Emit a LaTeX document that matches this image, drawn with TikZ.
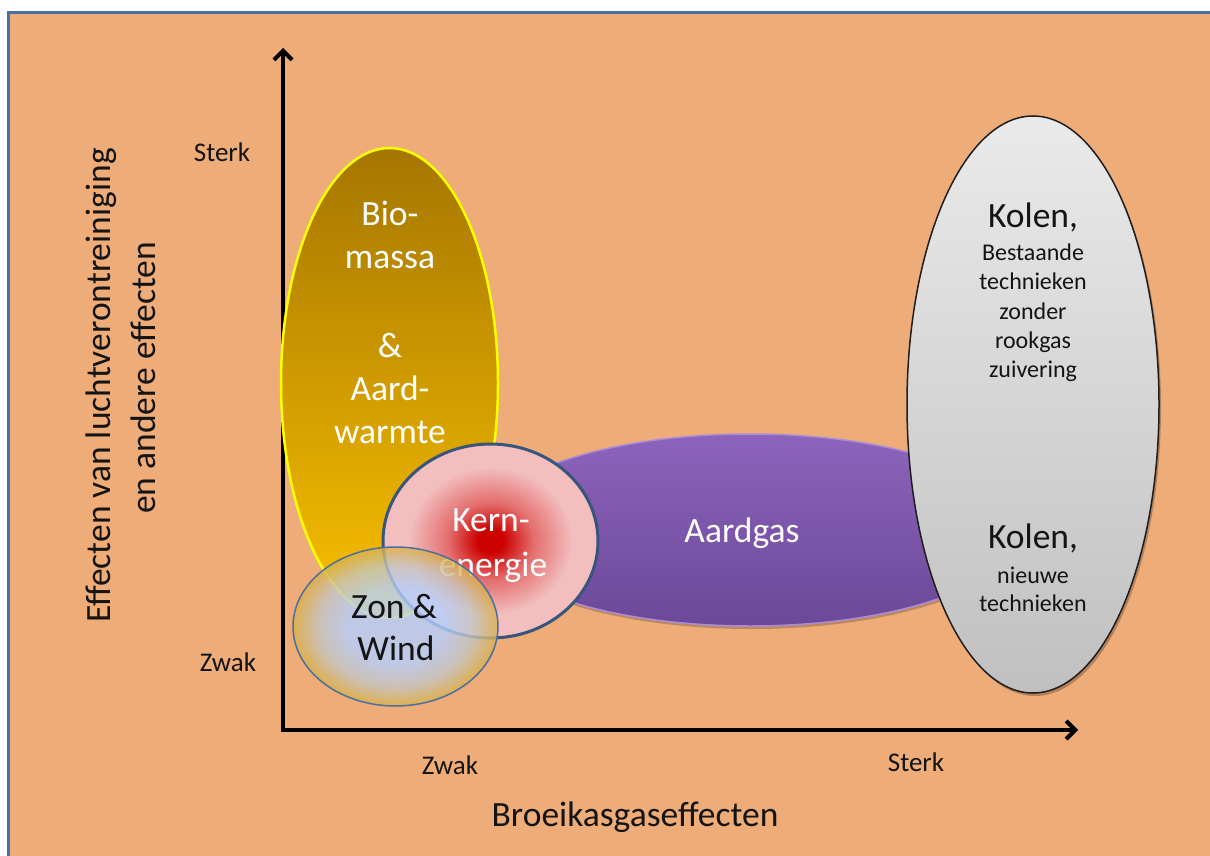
\documentclass[tikz,border=0pt]{standalone}
\usepackage{fontspec}
\setmainfont{Carlito}
\usetikzlibrary{arrows.meta,shapes.geometric}
\definecolor{bgor}{RGB}{238,172,120}
\definecolor{frameblue}{RGB}{74,111,165}
\definecolor{biotop}{RGB}{165,118,0}
\definecolor{biobot}{RGB}{250,192,0}
\definecolor{bioline}{RGB}{255,255,0}
\definecolor{gastop}{RGB}{140,100,188}
\definecolor{gasbot}{RGB}{108,72,152}
\definecolor{gasline}{RGB}{170,140,215}
\definecolor{koltop}{RGB}{234,234,234}
\definecolor{kolbot}{RGB}{192,192,192}
\definecolor{kolline}{RGB}{30,30,30}
\definecolor{kernin}{RGB}{205,0,0}
\definecolor{kernmid}{RGB}{228,110,110}
\definecolor{kernout}{RGB}{242,190,190}
\definecolor{kernline}{RGB}{55,85,125}
\definecolor{zonin}{RGB}{180,208,255}
\definecolor{zonmid}{RGB}{196,198,196}
\definecolor{zonout}{RGB}{218,176,70}
\definecolor{zonline}{RGB}{74,111,165}
\definecolor{txtdark}{RGB}{20,20,20}
\pgfdeclareradialshading{kernshade}{\pgfpoint{0bp}{0bp}}{color(0bp)=(kernin); color(3bp)=(kernin); color(10bp)=(kernmid); color(19bp)=(kernout); color(50bp)=(kernout)}
\pgfdeclareradialshading{zonshade}{\pgfpoint{0bp}{0bp}}{color(0bp)=(zonin); color(12bp)=(zonin); color(19bp)=(zonmid); color(25bp)=(zonout); color(50bp)=(zonout)}
\begin{document}
\begin{tikzpicture}[x=1pt,y=-1pt,
  blob/.style={ellipse, inner sep=0pt, outer sep=0pt},
  big/.style={font=\fontsize{35.5}{42}\selectfont, inner sep=0pt, text height=21pt, text depth=0pt},
  small/.style={font=\fontsize{24}{28}\selectfont, inner sep=0pt, text height=14pt, text depth=0pt, text=txtdark},
  tick/.style={font=\fontsize{27}{32}\selectfont, inner sep=0pt, text height=16pt, text depth=0pt, text=txtdark},
  axtitle/.style={font=\fontsize{35.5}{42}\selectfont, inner sep=0pt, text height=21pt, text depth=0pt, text=txtdark},
  axis/.style={line width=4pt, line join=miter, {Straight Barb[length=9pt,width=18pt,line width=4pt]}-{Straight Barb[length=9pt,width=18pt,line width=4pt]}}
]
\useasboundingbox (0,0) rectangle (1210,856);
\fill[white] (0,0) rectangle (1210,856);
\fill[bgor] (8,13) rectangle (1210,856);
\draw[frameblue, line width=3pt] (8,858) -- (8,13) -- (1212,13);

% axes
\coordinate (origin) at (283,730);
\coordinate (ytip) at (283,48);
\coordinate (xtip) at (1078,730);
\begin{scope}[xshift=2.5pt, yshift=-2.5pt]
\draw[axis, black, opacity=0.3] (ytip) -- (origin) -- (xtip);
\end{scope}
\draw[axis, black] (ytip) -- (origin) -- (xtip);

% Biomassa
\node[blob, minimum width=217pt, minimum height=470pt, draw=bioline, line width=2.5pt, top color=biotop, bottom color=biobot] (bio) at (389.5,383) {};
\node[big, white] (bio1) at (390,215) {Bio-};
\node[big, white] (bio2) at (390,258) {massa};
\node[big, white] (bio3) at (390,347) {\&};
\node[big, white] (bio4) at (390,390) {Aard-};
\node[big, white] (bio5) at (390,433) {warmte};

% Aardgas
\begin{scope}[xshift=1.5pt, yshift=-3pt]
\fill[black, opacity=0.2] (750,530) ellipse [x radius=270, y radius=96];
\end{scope}
\node[blob, minimum width=540pt, minimum height=192pt, draw=gasline, line width=1.5pt, top color=gastop, bottom color=gasbot] (gas) at (750,530) {};
\node[big, white] (gastxt) at (742,532) {Aardgas};

% Kolen
\begin{scope}[xshift=2pt, yshift=-3pt]
\fill[black, opacity=0.25] (1033,404.5) ellipse [x radius=126, y radius=288.5];
\end{scope}
\node[blob, minimum width=252pt, minimum height=577pt, draw=kolline, line width=1.5pt, top color=koltop, bottom color=kolbot] (kol) at (1033,404.5) {};
\node[big, text=txtdark] (kol1) at (1033,217) {Kolen,};
\node[small] (kol2) at (1033,253) {Bestaande};
\node[small] (kol3) at (1033,282) {technieken};
\node[small] (kol4) at (1033,312) {zonder};
\node[small] (kol5) at (1033,341) {rookgas};
\node[small] (kol6) at (1033,370) {zuivering};
\node[big, text=txtdark] (kol7) at (1033,538) {Kolen,};
\node[small] (kol8) at (1033,576) {nieuwe};
\node[small] (kol9) at (1033,604) {technieken};

% Kernenergie
\node[blob, minimum width=215pt, minimum height=194pt, draw=kernline, line width=3pt, shading=kernshade] (kern) at (490.5,541) {};
\node[big, white] (kern1) at (491,521) {Kern-};
\node[big, white] (kern2) at (493,566) {energie};

% Zon & Wind
\node[blob, minimum width=205pt, minimum height=159pt, draw=zonline, line width=1.5pt, shading=zonshade, fill opacity=0.8] (zon) at (395.5,626.5) {};
\node[big, text=txtdark] (zon1) at (394,608) {Zon \&};
\node[big, text=txtdark] (zon2) at (396,650) {Wind};

% tick labels
\node[tick] (ysterk) at (222,153) {Sterk};
\node[tick] (yzwak) at (228,663) {Zwak};
\node[tick] (xzwak) at (450,766) {Zwak};
\node[tick] (xsterk) at (916,763) {Sterk};

% axis titles
\node[axtitle, rotate=90] (ytitle1) at (100,385.5) {Effecten van luchtverontreiniging};
\node[axtitle, rotate=90] (ytitle2) at (145,378) {en andere effecten};
\node[axtitle] (xtitle) at (635,816) {Broeikasgaseffecten};
\end{tikzpicture}
\end{document}
